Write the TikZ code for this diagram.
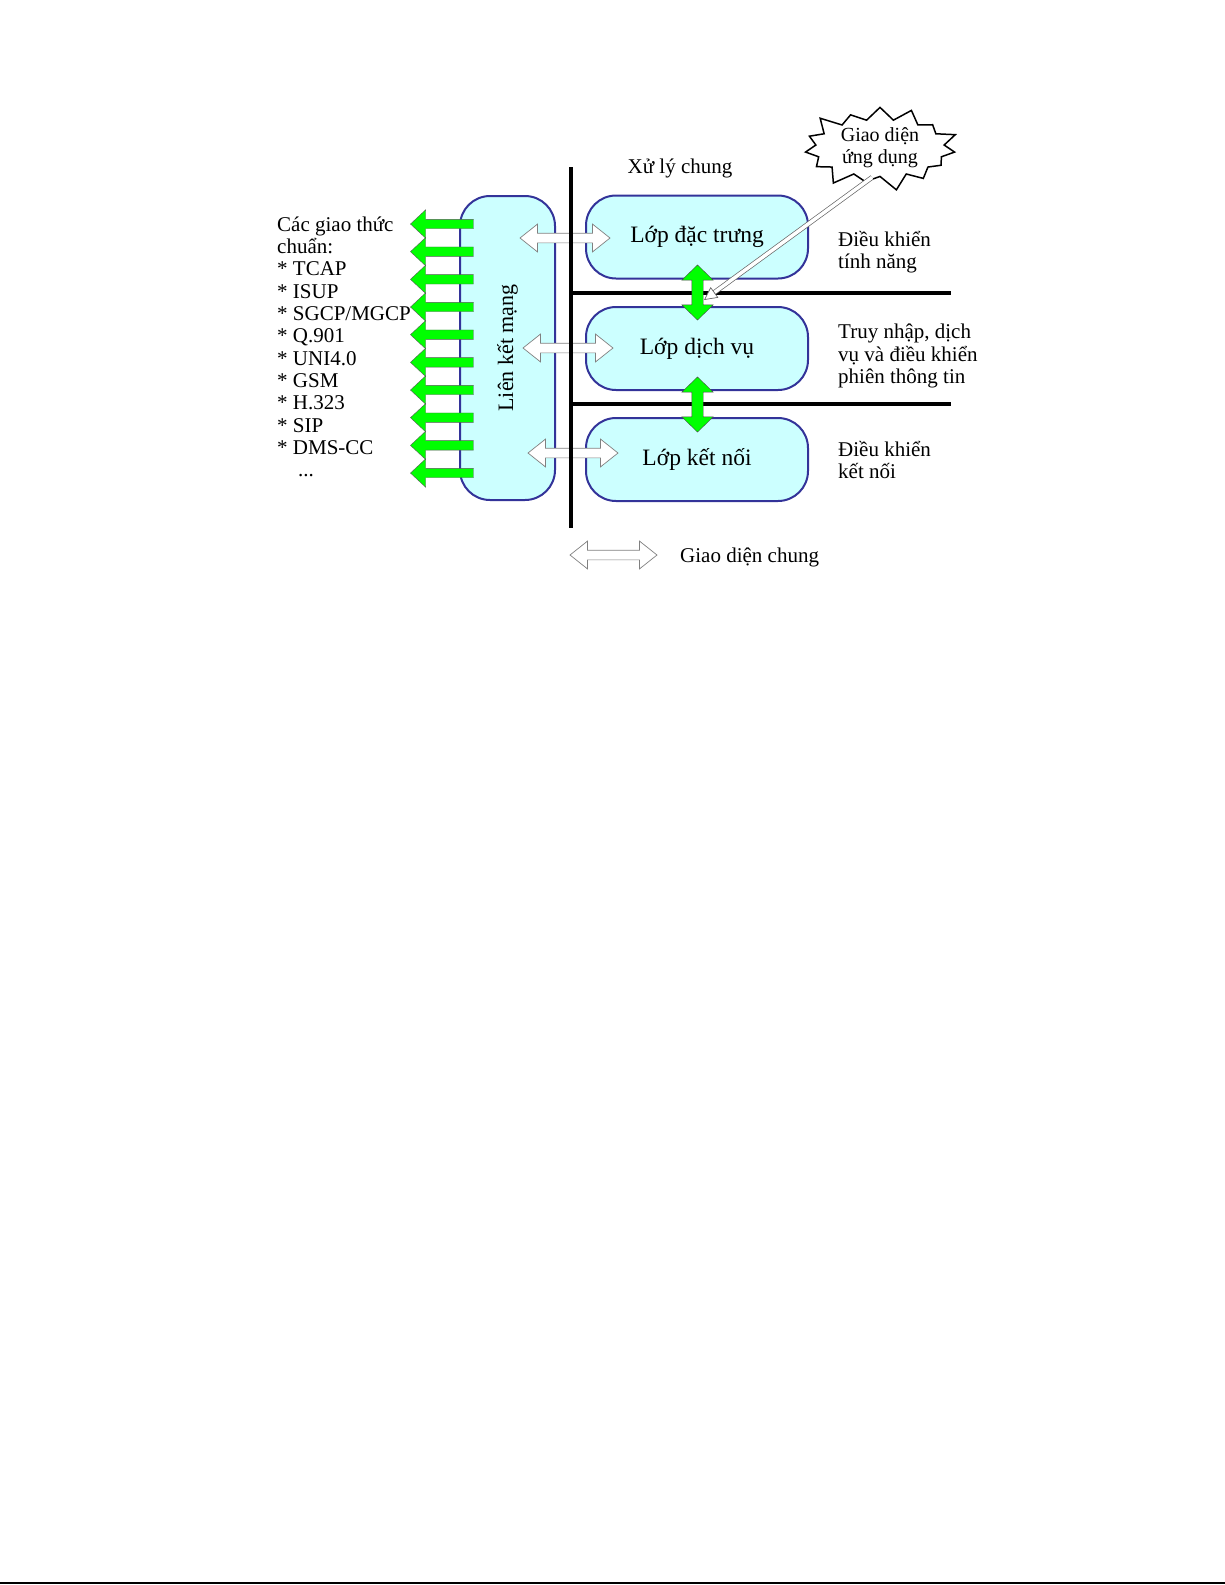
\documentclass[tikz,border=0pt]{standalone}
\usepackage{fontspec}
\setmainfont{Liberation Serif}
\usetikzlibrary{shapes.arrows,shapes.symbols,arrows.meta}
\definecolor{boxfill}{HTML}{CCFFFF}
\definecolor{boxline}{HTML}{333399}
\definecolor{fatgreen}{HTML}{00FF00}
\tikzset{
  layerbox/.style={draw=boxline, line width=2pt, fill=boxfill, rounded corners=30pt, minimum width=222pt, minimum height=83pt, inner sep=0pt, font=\fontsize{23.5}{27}\selectfont},
  greenleft/.style={single arrow, shape border rotate=180, fill=fatgreen, draw=gray!70!black, line width=0.4pt, minimum height=63pt, inner xsep=0pt, inner ysep=4.5pt, single arrow head extend=9.5pt, single arrow tip angle=86},
  greenupdown/.style={double arrow, shape border rotate=90, fill=fatgreen, draw=gray!60!black, line width=0.4pt, minimum height=55pt, inner sep=5.5pt, double arrow head extend=10pt, double arrow tip angle=92},
  whitearrow/.style={double arrow, fill=white, draw=gray, line width=0.7pt, minimum height=90pt, inner sep=4.5pt, double arrow head extend=9pt, double arrow tip angle=77},
  labeltext/.style={align=left, inner sep=0pt, font=\fontsize{21}{22.3}\selectfont},
  blackbar/.style={line width=4.5pt},
  thinarrow/.style={draw=gray!80!black, line width=0.7pt, double=white, double distance=3.5pt, -{Triangle[open, fill=white, line width=0.7pt, length=13pt, width=13pt]}}
}
\begin{document}
\begin{tikzpicture}[x=1pt, y=-1pt]
        \useasboundingbox (0,0) rectangle (1225,1585);
        \draw[line width=2pt] (0,1583) -- (1225,1583);

        \node[layerbox, rotate=90, minimum width=304pt, minimum height=95pt, font=\fontsize{22}{26}\selectfont] (interwork) at (507.5,348) {Liên kết mạng};
        \node[layerbox] (feature) at (697,237) {Lớp đặc trưng};
        \node[layerbox] (service) at (697,348.5) {Lớp dịch vụ};
        \node[layerbox] (connect) at (697,459.5) {Lớp kết nối};

        \node[whitearrow] (ifeature) at (565,238) {};
        \node[whitearrow] (iservice) at (568,348) {};
        \node[whitearrow] (iconnect) at (573,453) {};

        \coordinate (vtop) at (571,167);
        \coordinate (vbot) at (571,528);
        \coordinate (h1l) at (569,293);
        \coordinate (h1r) at (951,293);
        \coordinate (h2l) at (569,404);
        \coordinate (h2r) at (951,404);
        \draw[blackbar] (vtop) -- (vbot);
        \draw[blackbar, line width=4pt] (h1l) -- (h1r);
        \draw[blackbar, line width=4pt] (h2l) -- (h2r);

        \foreach \i in {0,...,9}
            \node[greenleft] (proto\i) at (444.5,{224+27.67*\i}) {};

        \node[greenupdown] (fs) at (697.5,292.5) {};
        \node[greenupdown] (sc) at (697.5,404.5) {};

        \node[labeltext, anchor=north west] (protocols) at (277,216.5) {Các giao thức\\chuẩn:\\* TCAP\\* ISUP\\* SGCP/MGCP\\* Q.901\\* UNI4.0\\* GSM\\* H.323\\* SIP\\* DMS-CC\\\hspace*{21pt}...};

        \node[labeltext] (common) at (680,168) {Xử lý chung};
        \node[labeltext, anchor=west] (featctl) at (838,252) {Điều khiển\\tính năng};
        \node[labeltext, anchor=west] (svcctl) at (838,356) {Truy nhập, dịch\\vụ và điều khiển\\phiên thông tin};
        \node[labeltext, anchor=west] (connctl) at (838,460) {Điều khiển\\kết nối};

        \node[starburst, draw, line width=1.5pt, fill=white, starburst points=15, starburst point height=17pt, minimum width=163pt, minimum height=70pt, inner sep=0pt, align=center, font=\fontsize{20}{22}\selectfont] (ui) at (880,148) {Giao diện\\ứng dụng};
        \coordinate (uitip) at (704,300);
        \draw[thinarrow] ([xshift=-8pt]ui.south) -- (uitip);

        \node[whitearrow, minimum height=87pt] (legend) at (613.5,555) {};
        \node[labeltext, anchor=west] (legendtext) at (680,557) {Giao diện chung};
    \end{tikzpicture}
\end{document}
